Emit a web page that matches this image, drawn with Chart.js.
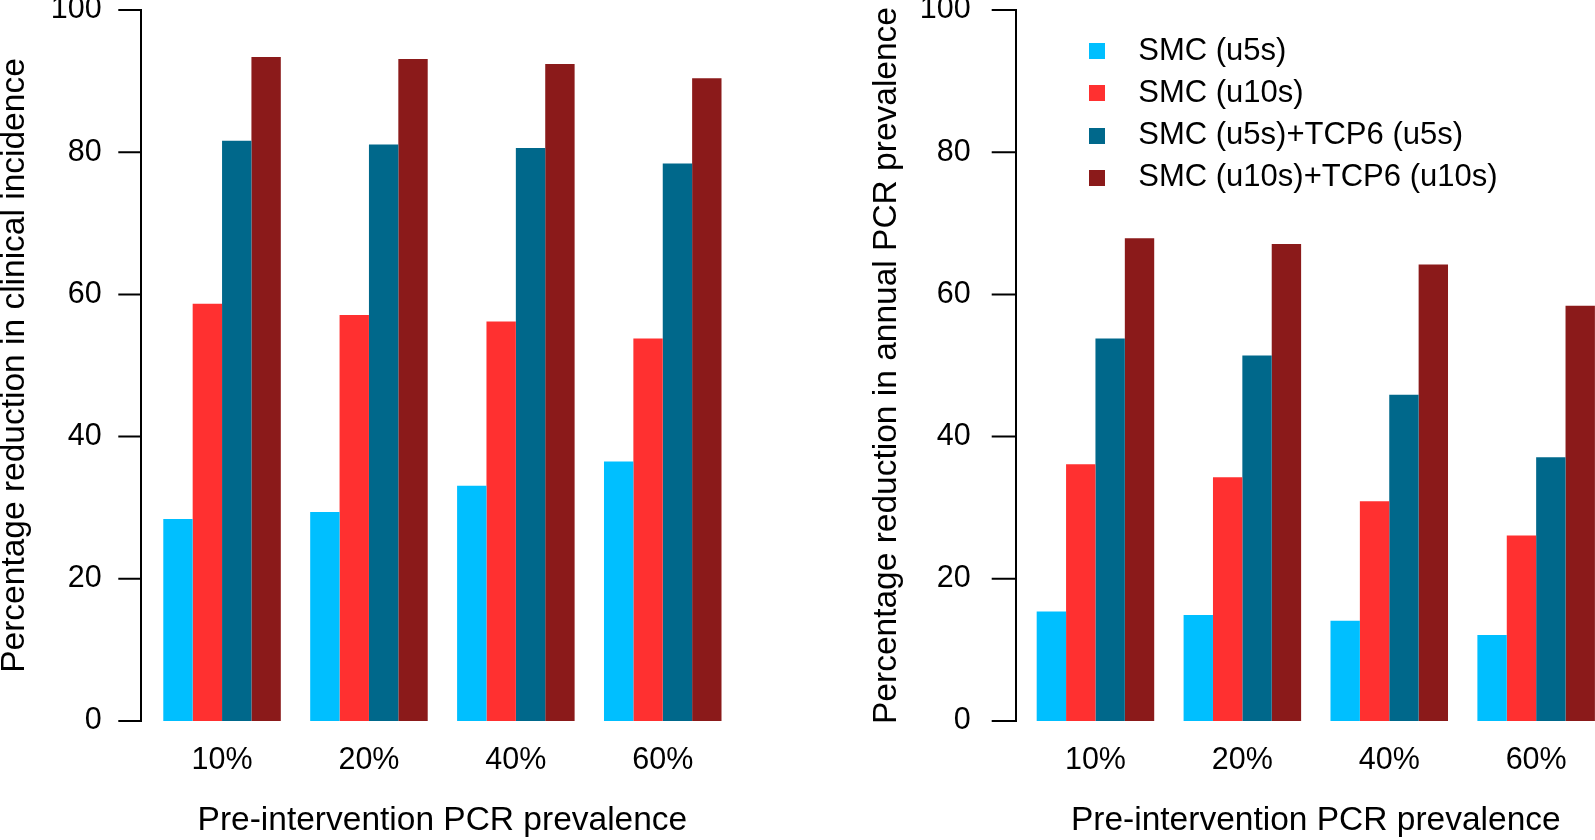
<!DOCTYPE html>
<html>
<head>
<meta charset="utf-8">
<title>SMC and TCP6 impact by prevalence</title>
<script src="https://cdn.jsdelivr.net/npm/chart.js@4.4.1/dist/chart.umd.min.js"></script>
<style>
  html, body { margin: 0; padding: 0; background: #fff; overflow: hidden; }
  #wrap { position: relative; width: 1595px; height: 840px; overflow: hidden; }
  canvas { position: absolute; top: 0; }
  #incidenceChart { left: 0; }
  #prevalenceChart { left: 800px; }
</style>
</head>
<body>
<div id="wrap">
  <canvas id="incidenceChart" width="800" height="840"></canvas>
  <canvas id="prevalenceChart" width="830" height="840"></canvas>
</div>
<script>
const categories = ["10%", "20%", "40%", "60%"];
const seriesLabels = ["SMC (u5s)", "SMC (u10s)", "SMC (u5s)+TCP6 (u5s)", "SMC (u10s)+TCP6 (u10s)"];

// % reduction in clinical incidence
const incidenceSmcU5 = [28.4, 29.4, 33.1, 36.5];
const incidenceSmcU10 = [58.7, 57.1, 56.2, 53.8];
const incidenceComboU5 = [81.6, 81.1, 80.6, 78.4];
const incidenceComboU10 = [93.4, 93.1, 92.4, 90.4];

// % reduction in annual PCR prevalence
const prevalenceSmcU5 = [15.4, 14.9, 14.1, 12.1];
const prevalenceSmcU10 = [36.1, 34.3, 30.9, 26.1];
const prevalenceComboU5 = [53.8, 51.4, 45.9, 37.1];
const prevalenceComboU10 = [67.9, 67.1, 64.2, 58.4];

const yTicks = [0, 20, 40, 60, 80, 100];
const xTitle = "Pre-intervention PCR prevalence";
const incidenceTitle = "Percentage reduction in clinical incidence";
const prevalenceTitle = "Percentage reduction in annual PCR prevalence";

const COLORS = ["#00bfff", "#ff3030", "#00688b", "#8b1a1a"];

Chart.defaults.font.family = '"Liberation Sans", Arial, Helvetica, sans-serif';
Chart.defaults.color = "#000";

// R style y axis: line from first to last tick, ticks pointing outwards
const rAxisPlugin = {
  id: "rAxis",
  afterDraw(chart, args, opts) {
    const y = chart.scales.y;
    const ctx = chart.ctx;
    const x0 = chart.chartArea.left - opts.offset;
    ctx.save();
    ctx.strokeStyle = "#000";
    ctx.lineWidth = 2;
    ctx.beginPath();
    ctx.moveTo(x0, y.getPixelForValue(yTicks[0]) + 1);
    ctx.lineTo(x0, y.getPixelForValue(yTicks[yTicks.length - 1]) - 1);
    yTicks.forEach((v) => {
      const py = y.getPixelForValue(v);
      ctx.moveTo(x0 - opts.tickLength, py);
      ctx.lineTo(x0, py);
    });
    ctx.stroke();
    ctx.restore();
  },
};

// put the chartArea legend where R put it (inside the plot, upper left)
const legendPlacer = {
  id: "legendPlacer",
  afterLayout(chart, args, opts) {
    const lg = chart.legend;
    if (!lg || !opts.enabled) return;
    lg.left = opts.left;
    lg.top = opts.top;
    lg.right = chart.width;
    lg.bottom = chart.height;
    lg.width = lg.right - lg.left;
    lg.height = lg.bottom - lg.top;
  },
};

function swatch(color) {
  const c = document.createElement("canvas");
  c.width = 16;
  c.height = 16;
  const g = c.getContext("2d");
  g.fillStyle = color;
  g.fillRect(0, 0, 16, 16);
  return c;
}
const swatches = COLORS.map(swatch);

function buildPanel(canvasId, series, yTitle, geom, showLegend) {
  const ctx = document.getElementById(canvasId).getContext("2d");
  return new Chart(ctx, {
    type: "bar",
    data: {
      labels: categories,
      datasets: series.map((data, i) => ({
        label: seriesLabels[i],
        data,
        backgroundColor: COLORS[i],
        borderWidth: 0,
        categoryPercentage: 0.8,
        barPercentage: 1.0,
      })),
    },
    options: {
      responsive: false,
      animation: false,
      events: [],
      layout: {
        autoPadding: false,
        padding: { left: geom.padLeft, right: geom.padRight, top: 10, bottom: 0 },
      },
      scales: {
        x: {
          type: "category",
          offset: true,
          grid: { display: false, drawTicks: false },
          border: { display: false },
          ticks: { font: { size: 30.5 }, padding: 21.7, maxRotation: 0, autoSkip: false },
          title: {
            display: true,
            text: xTitle,
            font: { size: 33.5, lineHeight: 1 },
            padding: { top: 0, bottom: 2.25 },
          },
          afterFit(scale) {
            scale.height = 119;
            scale.paddingLeft = 0;
            scale.paddingRight = 0;
          },
        },
        y: {
          min: 0,
          max: 100,
          grid: { display: false, drawTicks: false },
          border: { display: false },
          ticks: { font: { size: 30.5 }, padding: geom.labelPad },
          afterBuildTicks(scale) {
            scale.ticks = yTicks.map((v) => ({ value: v }));
          },
          title: {
            display: true,
            text: yTitle,
            font: { size: 33.5, lineHeight: 0.8955 },
            padding: { top: 0, bottom: 0 },
          },
          afterFit(scale) {
            scale.width = geom.yWidth;
            scale.paddingTop = 0;
            scale.paddingBottom = 0;
          },
        },
      },
      plugins: {
        tooltip: { enabled: false },
        legend: {
          display: showLegend,
          position: "chartArea",
          align: "start",
          labels: {
            usePointStyle: true,
            pointStyleWidth: 51.2,
            padding: 11.3,
            color: "#000",
            font: { size: 31 },
            generateLabels(chart) {
              const items = Chart.defaults.plugins.legend.labels.generateLabels(chart);
              items.forEach((it, i) => { it.pointStyle = swatches[i]; });
              return items;
            },
          },
        },
        rAxis: { offset: geom.axisOffset, tickLength: geom.tickLength },
        legendPlacer: { enabled: showLegend, left: 260.3, top: 24.2 },
      },
    },
    plugins: [rAxisPlugin, legendPlacer],
  });
}

buildPanel(
  "incidenceChart",
  [incidenceSmcU5, incidenceSmcU10, incidenceComboU5, incidenceComboU10],
  incidenceTitle,
  { padLeft: 0, padRight: 63.8, yWidth: 148.6, labelPad: 46.9, axisOffset: 7.6, tickLength: 22.7 },
  false
);

buildPanel(
  "prevalenceChart",
  [prevalenceSmcU5, prevalenceSmcU10, prevalenceComboU5, prevalenceComboU10],
  prevalenceTitle,
  { padLeft: 72, padRight: 20.4, yWidth: 150, labelPad: 51.3, axisOffset: 6, tickLength: 24.3 },
  true
);
</script>
</body>
</html>
